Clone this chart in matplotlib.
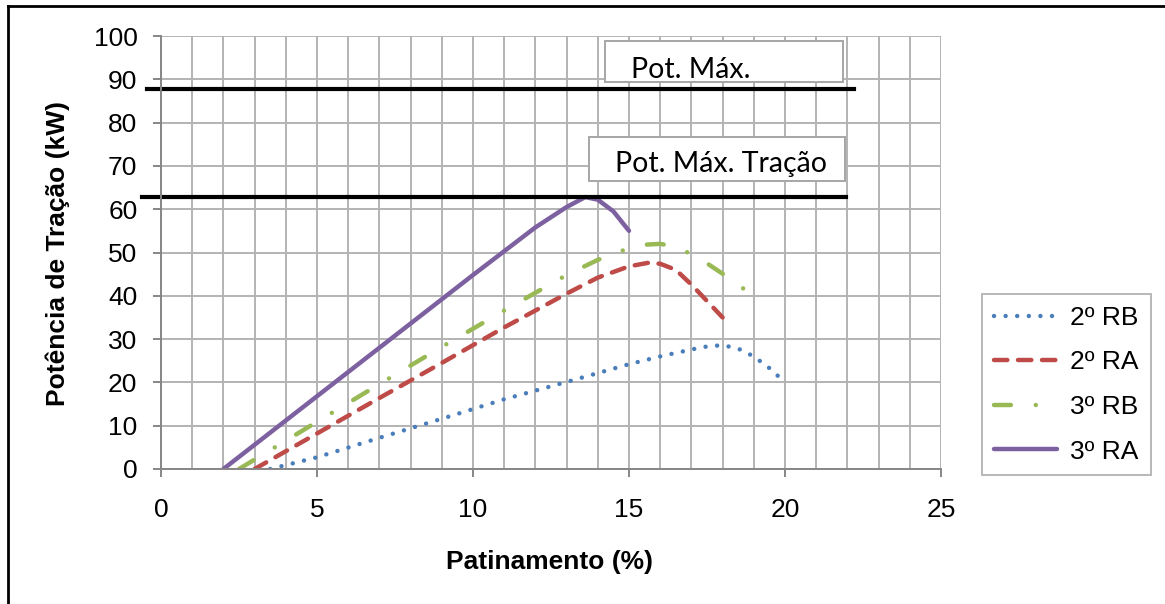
import numpy as np
import matplotlib
matplotlib.use('Agg')
import matplotlib.pyplot as plt
from matplotlib.patches import Rectangle
from matplotlib.lines import Line2D

plt.rcParams['font.family'] = ['Liberation Sans', 'DejaVu Sans']

# curvas de potência de tração x patinamento
rb2_x = [3.5, 5, 7, 9, 11, 13, 15, 16, 17, 17.5, 18, 18.5, 19, 19.5, 20]
rb2_y = [0, 2.7, 7.2, 11.6, 16.1, 20.1, 24.2, 26, 27.6, 28.3, 28.6, 27.8, 26, 23.3, 20]

ra2_x = [3, 5, 7, 9, 11, 13, 14, 15, 15.6, 16, 16.5, 17, 17.5, 18]
ra2_y = [0, 8.2, 16.4, 24.5, 32.7, 40.5, 44.2, 46.8, 47.6, 47.4, 46, 42.6, 38.8, 35]

rb3_x = [2.5, 5, 7, 9, 11, 13, 14, 15, 15.5, 16, 16.5, 17, 17.5, 18, 18.5, 19]
rb3_y = [0, 10.9, 19.6, 28.2, 36.6, 44.8, 48.3, 51, 51.8, 52, 51.3, 49.6, 47.5, 45.1, 42.5, 40]

ra3_x = [2, 4, 6, 8, 10, 12, 13, 13.6, 14, 14.5, 15]
ra3_y = [0, 11.2, 22.4, 33.6, 44.8, 55.8, 60.5, 62.8, 62.2, 59.5, 55]

labels = ['2º RB', '2º RA', '3º RB', '3º RA']

# limites de potência
pot_max = 87.7
pot_max_tracao = 62.8
pot_labels = ['Pot. Máx.', 'Pot. Máx. Tração']

W, H = 1165, 604
fig = plt.figure(figsize=(W / 100, H / 100), dpi=100)
ax = fig.add_axes([161 / W, 1 - 469 / H, (941 - 161) / W, (469 - 36) / H])

ax.set_xlim(0, 25)
ax.set_ylim(0, 100)
ax.set_xticks(np.arange(0, 26, 5))
ax.set_xticks(np.arange(0, 26, 1), minor=True)
ax.set_yticks(np.arange(0, 101, 10))
ax.grid(which='both', color='#b3b3b3', lw=1.4)
ax.set_axisbelow(True)
for s in ['top', 'right']:
    ax.spines[s].set_visible(False)
for s in ['left', 'bottom']:
    ax.spines[s].set_color('#868686')
    ax.spines[s].set_linewidth(1.4)
ax.tick_params(which='major', length=6, width=1.4, color='#868686', labelsize=19)
ax.tick_params(axis='x', which='major', pad=15)
ax.tick_params(axis='y', which='major', pad=11)
ax.tick_params(which='minor', length=0)

lw = 3.2
ax.plot(rb2_x, rb2_y, color='#4a7ebb', lw=lw, ls=(0, (0.01, 2.6)),
        dash_capstyle='round', label=labels[0])
ax.plot(ra2_x, ra2_y, color='#be4b48', lw=lw, ls=(0, (3.0, 2.4)),
        dash_capstyle='round', label=labels[1])
ax.plot(rb3_x, rb3_y, color='#98b954', lw=lw, ls=(0, (3.8, 5.6, 0.01, 5.6)),
        dash_capstyle='round', label=labels[2])
ax.plot(ra3_x, ra3_y, color='#7d60a0', lw=lw, solid_capstyle='round',
        label=labels[3])

# linhas de referência
ax.plot([-0.45, 22.2], [pot_max, pot_max], color='black', lw=3, clip_on=False)
ax.plot([-0.6, 21.95], [pot_max_tracao, pot_max_tracao], color='black', lw=3,
        clip_on=False)

# caixas de texto
ax.add_patch(Rectangle((14.23, 89.4), 7.63, 9.4, facecolor='white',
                       edgecolor='#a6a6a6', lw=1.4, zorder=4))
ax.text(15.06, 90.4, pot_labels[0], fontsize=20.5, family=['Lato', 'DejaVu Sans'],
        va='baseline', ha='left', zorder=5)
ax.add_patch(Rectangle((13.72, 66.5), 8.2, 10.2, facecolor='white',
                       edgecolor='#a6a6a6', lw=1.4, zorder=4))
ax.text(14.55, 68.5, pot_labels[1], fontsize=20.5, family=['Lato', 'DejaVu Sans'],
        va='baseline', ha='left', zorder=5)

fig.text(549 / W, 1 - 562 / H, 'Patinamento (%)', fontsize=19, fontweight='bold',
         ha='center', va='center')
fig.text(58 / W, 1 - 253 / H, 'Potência de Tração (kW)', fontsize=19,
         fontweight='bold', ha='center', va='center', rotation=90)

leg = fig.legend(loc='upper left', bbox_to_anchor=(982 / W, 1 - 294 / H),
                 fontsize=19, frameon=True, fancybox=False, handlelength=2.4,
                 labelspacing=0.78, borderpad=0.45, handletextpad=0.5,
                 borderaxespad=0)
leg.get_frame().set_edgecolor('#a6a6a6')
leg.get_frame().set_linewidth(1.4)

# moldura da figura
fig.add_artist(Line2D([8 / W, 1], [1 - 6 / H, 1 - 6 / H], color='black', lw=2,
                      transform=fig.transFigure))
fig.add_artist(Line2D([8 / W, 8 / W], [0, 1 - 6 / H], color='black', lw=2,
                      transform=fig.transFigure))

fig.savefig('out.png', dpi=100)
